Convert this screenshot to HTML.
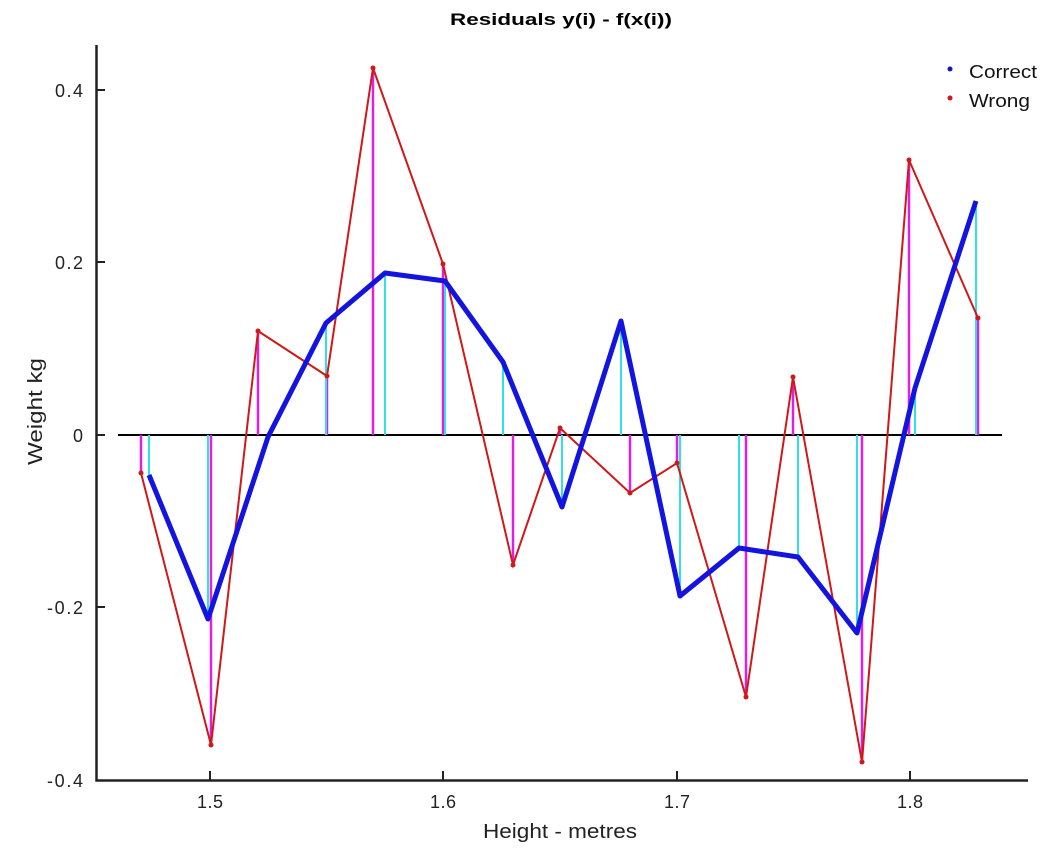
<!DOCTYPE html>
<html><head><meta charset="utf-8"><style>body{margin:0;background:#fff}svg{display:block}text{font-family:"Liberation Sans",sans-serif}</style></head>
<body>
<svg width="1062" height="848" viewBox="0 0 1062 848">
<text x="450" y="25" font-size="17" font-weight="bold" textLength="222" lengthAdjust="spacingAndGlyphs">Residuals y(i) - f(x(i))</text>
<path d="M96.5,45 V780.5 H1028" fill="none" stroke="#222" stroke-width="2.5"/>
<g stroke="#222" stroke-width="2">
<path d="M96,90h9M96,262h9M96,435h9M96,607h9"/>
<path d="M210,780v-9M443,780v-9M677,780v-9M910,780v-9"/>
</g>
<g font-size="18" fill="#222" lengthAdjust="spacingAndGlyphs">
<text x="55" y="97" textLength="28">0.4</text><text x="55" y="269" textLength="28">0.2</text><text x="73" y="442" textLength="10">0</text><text x="47" y="614" textLength="36">-0.2</text><text x="47" y="787" textLength="36">-0.4</text>
</g>
<g font-size="18" fill="#222">
<text x="197" y="808" textLength="26">1.5</text><text x="430" y="808" textLength="26">1.6</text><text x="664" y="808" textLength="26">1.7</text><text x="897" y="808" textLength="26">1.8</text>
</g>
<text x="483" y="838" font-size="20" fill="#222" textLength="154" lengthAdjust="spacingAndGlyphs">Height - metres</text>
<text transform="translate(42,465) rotate(-90)" font-size="20" fill="#222" textLength="107" lengthAdjust="spacingAndGlyphs">Weight kg</text>
<line x1="118" y1="435" x2="1002" y2="435" stroke="#000" stroke-width="2"/>
<g stroke="#e020e0" stroke-width="2.5">
<path d="M141,435V473M211,435V745M258,435V331M327,435V376M373,435V68M443,435V264M513,435V565M560,435V428M630,435V493M677,435V463M746,435V697M793,435V377M862,435V762M909,435V160M978,435V318"/>
</g>
<g stroke="#30e0e8" stroke-width="2">
<path d="M149,435V475M208,435V619M268,435V437M326,435V323M385,435V273M445,435V281M503,435V362M562,435V507M621,435V321M680,435V596M739,435V548M798,435V557M857,435V633M915,435V388M976,435V201"/>
</g>
<polyline fill="none" stroke="#d01818" stroke-width="2" points="141,473 211,745 258,331 327,376 373,68 443,264 513,565 560,428 630,493 677,463 746,697 793,377 862,762 909,160 978,318"/>
<g fill="#d01818">
<circle cx="141" cy="473" r="2.5"/><circle cx="211" cy="745" r="2.5"/><circle cx="258" cy="331" r="2.5"/><circle cx="327" cy="376" r="2.5"/><circle cx="373" cy="68" r="2.5"/><circle cx="443" cy="264" r="2.5"/><circle cx="513" cy="565" r="2.5"/><circle cx="560" cy="428" r="2.5"/><circle cx="630" cy="493" r="2.5"/><circle cx="677" cy="463" r="2.5"/><circle cx="746" cy="697" r="2.5"/><circle cx="793" cy="377" r="2.5"/><circle cx="862" cy="762" r="2.5"/><circle cx="909" cy="160" r="2.5"/><circle cx="978" cy="318" r="2.5"/>
</g>
<polyline fill="none" stroke="#1414e0" stroke-width="5" stroke-linejoin="round" points="149,475 208,619 268,437 326,323 385,273 445,281 503,362 562,507 621,321 680,596 739,548 798,557 857,633 915,388 976,201"/>
<circle cx="950" cy="69" r="2.5" fill="#1414c0"/>
<circle cx="950" cy="98" r="2.5" fill="#d01818"/>
<text x="969" y="78" font-size="18" fill="#111" textLength="68" lengthAdjust="spacingAndGlyphs">Correct</text>
<text x="969" y="107" font-size="18" fill="#111" textLength="61" lengthAdjust="spacingAndGlyphs">Wrong</text>
</svg>
</body></html>
